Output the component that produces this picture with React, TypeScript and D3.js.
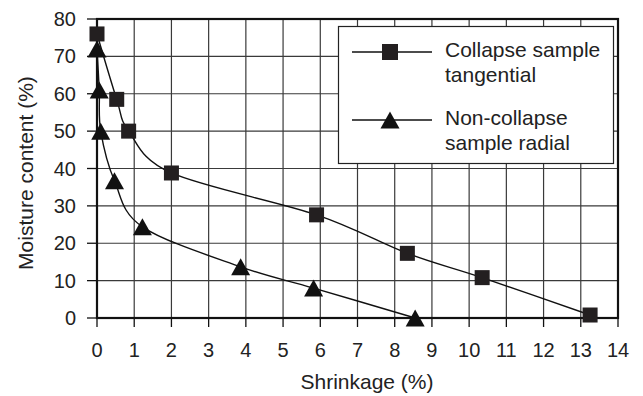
import React, { useEffect, useRef } from "react";
import * as d3 from "d3";

// collapse sample, tangential
const shrinkTangential = [0, 0.53, 0.85, 2, 5.9, 8.34, 10.35, 13.25];
const moistTangential = [76, 58.5, 50, 38.8, 27.6, 17.3, 10.8, 0.8];
// non-collapse sample, radial
const shrinkRadial = [0, 0.06, 0.1, 0.47, 1.22, 3.86, 5.82, 8.55];
const moistRadial = [72, 61, 50, 36.7, 24.4, 13.7, 8, 0];

const xTicks = [0, 1, 2, 3, 4, 5, 6, 7, 8, 9, 10, 11, 12, 13, 14];
const yTicks = [0, 10, 20, 30, 40, 50, 60, 70, 80];

const seriesNames = [
  ["Collapse sample", "tangential"],
  ["Non-collapse", "sample radial"],
];

const FONT = "'Liberation Sans', Arial, Helvetica, sans-serif";

const App = () => {
  const svgRef = useRef<SVGSVGElement | null>(null);

  useEffect(() => {
    const width = 643,
      height = 396;
    const margin = { top: 19, right: 25, bottom: 78, left: 97 };

    const svg = d3.select(svgRef.current);
    svg.selectAll("*").remove();
    svg.attr("width", width).attr("height", height);

    const x = d3
      .scaleLinear()
      .domain([0, 14])
      .range([margin.left, width - margin.right]);
    const y = d3
      .scaleLinear()
      .domain([0, 80])
      .range([height - margin.bottom, margin.top]);

    svg.append("rect").attr("width", width).attr("height", height).attr("fill", "#fff");

    // grid
    const grid = svg.append("g").attr("stroke", "#3a3a3a").attr("stroke-width", 1.2);
    grid
      .selectAll("line.v")
      .data(xTicks.slice(1, -1))
      .enter()
      .append("line")
      .attr("x1", (d) => x(d))
      .attr("x2", (d) => x(d))
      .attr("y1", y(0))
      .attr("y2", y(80));
    grid
      .selectAll("line.h")
      .data(yTicks.slice(1, -1))
      .enter()
      .append("line")
      .attr("x1", x(0))
      .attr("x2", x(14))
      .attr("y1", (d) => y(d))
      .attr("y2", (d) => y(d));

    // tick marks
    const ticks = svg.append("g").attr("stroke", "#111").attr("stroke-width", 1.3);
    ticks
      .selectAll("line.xt")
      .data(xTicks)
      .enter()
      .append("line")
      .attr("x1", (d) => x(d))
      .attr("x2", (d) => x(d))
      .attr("y1", y(0))
      .attr("y2", y(0) + 9);
    ticks
      .selectAll("line.yt")
      .data(yTicks)
      .enter()
      .append("line")
      .attr("x1", x(0) - 10)
      .attr("x2", x(0))
      .attr("y1", (d) => y(d))
      .attr("y2", (d) => y(d));

    // frame
    svg
      .append("rect")
      .attr("x", x(0))
      .attr("y", y(80))
      .attr("width", x(14) - x(0))
      .attr("height", y(0) - y(80))
      .attr("fill", "none")
      .attr("stroke", "#111")
      .attr("stroke-width", 2.2);

    // tick labels
    svg
      .append("g")
      .attr("font-family", FONT)
      .attr("font-size", 20)
      .attr("fill", "#222")
      .attr("text-anchor", "middle")
      .selectAll("text")
      .data(xTicks)
      .enter()
      .append("text")
      .attr("x", (d) => x(d))
      .attr("y", y(0) + 39)
      .text((d) => d);
    svg
      .append("g")
      .attr("font-family", FONT)
      .attr("font-size", 20)
      .attr("fill", "#222")
      .attr("text-anchor", "end")
      .selectAll("text")
      .data(yTicks)
      .enter()
      .append("text")
      .attr("x", x(0) - 21)
      .attr("y", (d) => y(d) + 7)
      .text((d) => d);

    // axis titles
    svg
      .append("text")
      .attr("x", 367)
      .attr("y", 389)
      .attr("text-anchor", "middle")
      .attr("font-family", FONT)
      .attr("font-size", 21)
      .attr("fill", "#222")
      .text("Shrinkage (%)");
    svg
      .append("text")
      .attr("transform", "translate(33,173) rotate(-90)")
      .attr("text-anchor", "middle")
      .attr("font-family", FONT)
      .attr("font-size", 21)
      .attr("fill", "#222")
      .text("Moisture content (%)");

    const line = d3
      .line<[number, number]>()
      .x((d) => x(d[0]))
      .y((d) => y(d[1]))
      .curve(d3.curveCatmullRom.alpha(0));

    const tang = shrinkTangential.map((s, i) => [s, moistTangential[i]] as [number, number]);
    const rad = shrinkRadial.map((s, i) => [s, moistRadial[i]] as [number, number]);

    [tang, rad].forEach((pts) => {
      svg
        .append("path")
        .attr("d", line(pts))
        .attr("fill", "none")
        .attr("stroke", "#111")
        .attr("stroke-width", 1.4);
    });

    const sq = 15;
    const triPath = "M0,-8.5L9.5,8.5L-9.5,8.5Z";

    svg
      .append("g")
      .selectAll("rect")
      .data(tang)
      .enter()
      .append("rect")
      .attr("x", (d) => x(d[0]) - sq / 2)
      .attr("y", (d) => y(d[1]) - sq / 2)
      .attr("width", sq)
      .attr("height", sq)
      .attr("fill", "#231f20");

    svg
      .append("g")
      .selectAll("path")
      .data(rad)
      .enter()
      .append("path")
      .attr("transform", (d) => `translate(${x(d[0])},${y(d[1])})`)
      .attr("d", triPath)
      .attr("fill", "#111");

    // legend
    const lg = svg.append("g");
    lg.append("rect")
      .attr("x", 338.5)
      .attr("y", 26.5)
      .attr("width", 275)
      .attr("height", 137)
      .attr("fill", "#fff")
      .attr("stroke", "#222")
      .attr("stroke-width", 1.2);

    const rows = [52, 120];
    rows.forEach((ry, i) => {
      lg.append("line")
        .attr("x1", 352)
        .attr("x2", 432)
        .attr("y1", ry)
        .attr("y2", ry)
        .attr("stroke", "#111")
        .attr("stroke-width", 1.4);
      if (i === 0) {
        lg.append("rect")
          .attr("x", 390 - 8)
          .attr("y", ry - 8)
          .attr("width", 16)
          .attr("height", 16)
          .attr("fill", "#231f20");
      } else {
        lg.append("path")
          .attr("transform", `translate(390,${ry})`)
          .attr("d", triPath)
          .attr("fill", "#111");
      }
      seriesNames[i].forEach((t, j) => {
        lg.append("text")
          .attr("x", 445)
          .attr("y", ry + 5 + j * 25)
          .attr("font-family", FONT)
          .attr("font-size", 21)
          .attr("fill", "#222")
          .text(t);
      });
    });
  }, []);

  return (
    <svg
      ref={svgRef}
      style={{ position: "absolute", left: 0, top: 0, display: "block" }}
    ></svg>
  );
};

export default App;
